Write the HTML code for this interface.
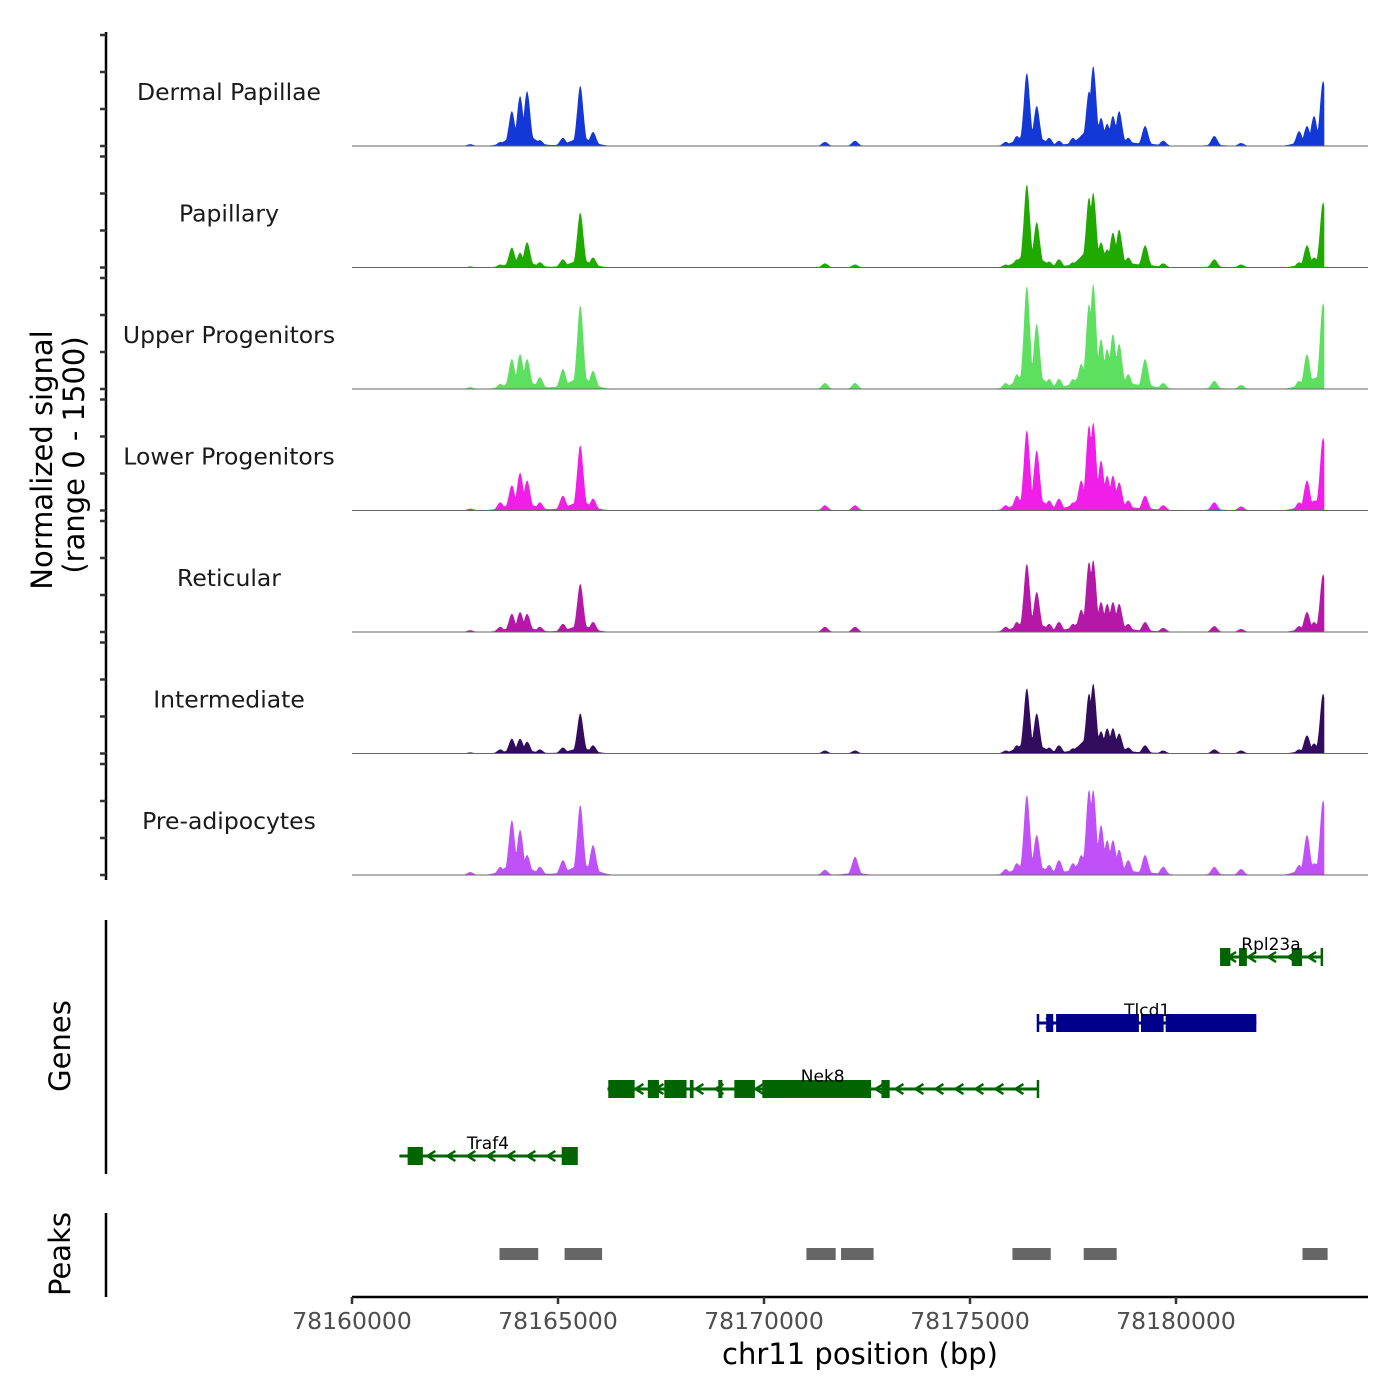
<!DOCTYPE html>
<html><head><meta charset="utf-8"><style>
body{margin:0;background:#fff}
svg{display:block;font-family:"DejaVu Sans","Liberation Sans",sans-serif}
</style></head><body>
<svg id="chart" width="1400" height="1400" viewBox="0 0 1400 1400" xmlns="http://www.w3.org/2000/svg">
<g id="tracks"></g>
<g id="yaxis"></g>
<g id="genes"></g>
<g id="peaks"></g>
<g id="xaxis"></g>
<text transform="translate(52,460) rotate(-90)" text-anchor="middle" font-size="29">Normalized signal</text>
<text transform="translate(84,455) rotate(-90)" text-anchor="middle" font-size="29">(range 0 - 1500)</text>
<text transform="translate(70,1046) rotate(-90)" text-anchor="middle" font-size="29">Genes</text>
<text transform="translate(70,1254) rotate(-90)" text-anchor="middle" font-size="29">Peaks</text>
<text x="860" y="1364" text-anchor="middle" font-size="29">chr11 position (bp)</text>
</svg>
<script>
const trackNames = ["Dermal Papillae","Papillary","Upper Progenitors","Lower Progenitors","Reticular","Intermediate","Pre-adipocytes"];
const trackColors = ["#1438d8","#20aa00","#5de060","#f01ee8","#b518a8","#330c60","#c050f8"];
const peakPositions = [78162870,78163600,78163880,78164080,78164250,78164560,78165120,78165540,78165850,78171480,78172210,78175870,78176140,78176380,78176620,78176920,78177160,78177500,78177700,78177890,78177990,78178180,78178330,78178470,78178620,78178840,78179250,78179690,78180930,78181580,78182990,78183180,78183350,78183570];
const hDP  = [25,55,470,675,740,80,110,810,190,55,70,55,135,985,540,110,70,110,110,740,1080,380,300,405,470,110,270,70,135,40,200,270,405,880];
const hPap = [15,40,270,200,340,70,110,740,135,55,40,40,110,1120,610,80,110,70,110,945,1010,340,245,470,510,135,300,55,110,40,70,300,135,880];
const hUp  = [25,70,405,470,405,160,270,1130,245,80,80,80,200,1390,880,135,135,135,340,1150,1420,675,540,740,610,200,405,80,110,55,110,470,135,1160];
const hLow = [25,110,340,510,405,110,200,880,160,70,70,70,200,1080,810,135,160,110,405,1150,1190,675,470,470,380,135,200,70,110,55,110,405,135,985];
const hRet = [25,70,245,270,245,70,110,650,135,70,70,70,135,920,540,110,135,110,300,945,970,405,380,405,380,110,135,55,80,40,80,270,135,780];
const hInt = [15,55,200,200,160,55,80,540,110,40,40,40,110,880,540,80,110,70,135,810,945,300,340,340,270,80,110,40,55,40,55,245,135,810];
const hPre = [40,110,740,610,270,110,200,945,405,70,245,80,160,1080,540,135,200,160,270,1150,1150,675,470,470,340,200,270,110,110,80,135,540,160,1010];
const trackHeights = [hDP,hPap,hUp,hLow,hRet,hInt,hPre];

const geneNames = ["Rpl23a","Tlcd1","Nek8","Traf4"];
const geneStarts = [78181070,78176650,78166200,78161150];
const geneEnds = [78183540,78181950,78176650,78165450];
const geneStrands = [-1,1,-1,-1];
const geneColors = ["#006400","#00008b","#006400","#006400"];
const geneExons = [
  [[78181070,78181320],[78181530,78181720],[78182810,78183060]],
  [[78176850,78177020],[78177090,78179100],[78179150,78179700],[78179750,78181950]],
  [[78166220,78166860],[78167180,78167450],[78167580,78168120],[78168200,78168290],[78168890,78168990],[78169280,78169780],[78169960,78172600],[78172850,78173050]],
  [[78161350,78161720],[78165090,78165450]]
];
const peakStarts = [78163580,78165160,78171030,78171870,78176030,78177760,78183070];
const peakEnds = [78164520,78166070,78171740,78172660,78176960,78178560,78183680];
const xTicks = [78160000,78165000,78170000,78175000,78180000];

const NS='http://www.w3.org/2000/svg';
const X0=352, BP0=78160000, PXPERBP=206/5000;
const xs = bp => X0 + (bp-BP0)*PXPERBP;
const baselines=[146,267.5,389,510.5,632,753.5,875];
const ys = (v,i) => baselines[i] - v*111/1500;
function mk(tag,attrs,parent){const e=document.createElementNS(NS,tag);for(const k in attrs)e.setAttribute(k,attrs[k]);parent.appendChild(e);return e;}

const tracks=document.getElementById('tracks');
trackNames.forEach((name,i)=>{
  const g=mk('g',{},tracks);
  
  
  const hs=trackHeights[i];
  let d='M'+xs(78162000)+','+baselines[i];
  for(let bp=78162000;bp<=78183600;bp+=15){
    let v=0, sum=0;
    for(let k=0;k<peakPositions.length;k++){
      const dx=(bp-peakPositions[k])/75;
      const c=hs[k]*Math.exp(-dx*dx/2); if(c>v)v=c;
      const dx2=(bp-peakPositions[k])/220;
      sum+=0.12*hs[k]*Math.exp(-dx2*dx2/2);
    }
    v=Math.max(v,sum);
    d+=' L'+xs(bp).toFixed(1)+','+ys(v,i).toFixed(1);
  }
  d+=' L'+xs(78183600)+','+baselines[i]+' Z';
  const p=mk('path',{d:d,fill:trackColors[i]},g);
  
  
  const bl=mk('line',{x1:352,x2:1368,y1:baselines[i],y2:baselines[i],stroke:'#666','stroke-width':1},g);
  
  
  const t=mk('text',{x:229,y:baselines[i]-46,'text-anchor':'middle','font-size':23.5,fill:'#1a1a1a'},g);
  t.textContent=name;
  
  
});

const ya=document.getElementById('yaxis');
mk('line',{x1:106,x2:106,y1:32,y2:880,stroke:'#000','stroke-width':2.5},ya);
baselines.forEach((b,i)=>{[0,500,1000,1500].forEach(v=>{
  const y=ys(v,i);
  const tk=mk('line',{x1:100,x2:106,y1:y,y2:y,stroke:'#333','stroke-width':2.5},ya);
  
  
});});

const genes=document.getElementById('genes');
mk('line',{x1:106,x2:106,y1:920,y2:1174,stroke:'#000','stroke-width':2.5},genes);
const geneY=[957,1023,1089,1156];
geneNames.forEach((n,i)=>{
  const g=mk('g',{},genes);
  
  
  const c=geneColors[i], y=geneY[i], a=xs(geneStarts[i]), b=xs(geneEnds[i]);
  mk('line',{x1:a,x2:b,y1:y,y2:y,stroke:c,'stroke-width':3},g);
  mk('line',{x1:geneStrands[i]<0?b:a,x2:geneStrands[i]<0?b:a,y1:y-9,y2:y+9,stroke:c,'stroke-width':2.5},g);
  for(let px=a+12;px<b-8;px+=20){
    const s=geneStrands[i];
    mk('polyline',{points:(px-4*s)+','+(y-5)+' '+(px+4*s)+','+y+' '+(px-4*s)+','+(y+5),fill:'none',stroke:c,'stroke-width':2.5},g);
  }
  geneExons[i].forEach(e=>{
    const r=mk('rect',{x:xs(e[0]),y:y-9,width:Math.max(3,xs(e[1])-xs(e[0])),height:18,fill:c},g);
    
    
  });
  const t=mk('text',{x:(a+b)/2,y:y-7,'text-anchor':'middle','font-size':17,fill:'#000'},g);
  t.textContent=n;
  
  
});

const peaks=document.getElementById('peaks');
mk('line',{x1:106,x2:106,y1:1213,y2:1297,stroke:'#000','stroke-width':2.5},peaks);
peakStarts.forEach((s,i)=>{
  const r=mk('rect',{x:xs(s),y:1248,width:xs(peakEnds[i])-xs(s),height:12,fill:'#666'},peaks);
  
  
});

const xa=document.getElementById('xaxis');
mk('line',{x1:352,x2:1368,y1:1297,y2:1297,stroke:'#000','stroke-width':2.5},xa);
xTicks.forEach(v=>{
  const x=xs(v);
  const tk=mk('line',{x1:x,x2:x,y1:1297,y2:1304,stroke:'#333','stroke-width':2.5},xa);
  
  
  const t=mk('text',{x:x,y:1329,'text-anchor':'middle','font-size':23.5,fill:'#4d4d4d'},xa);
  t.textContent=v;
  
  
});
</script>
</body></html>
